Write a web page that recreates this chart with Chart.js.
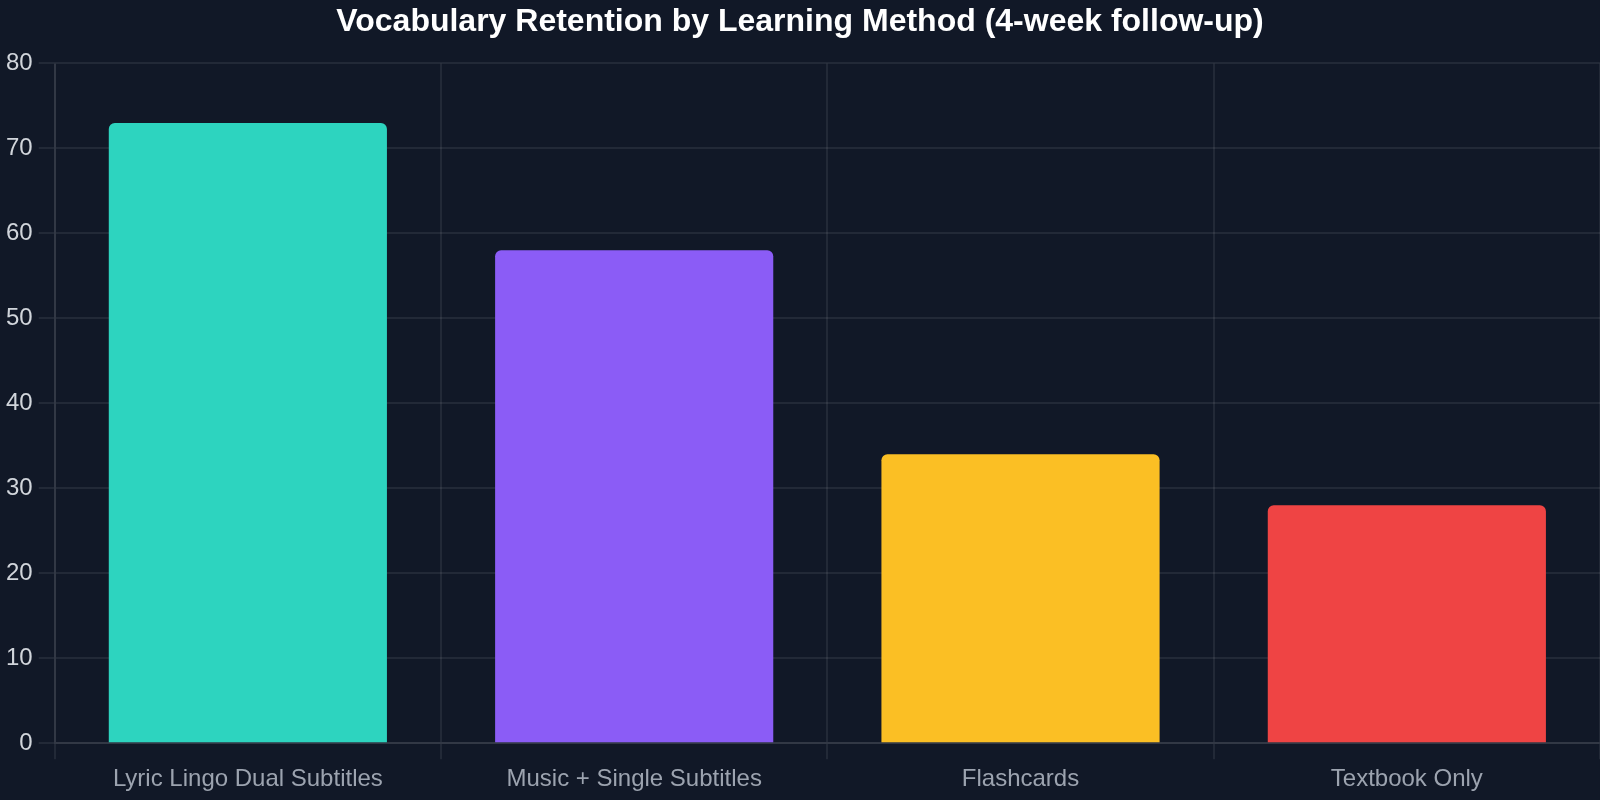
<!DOCTYPE html>
<html lang="en">
<head>
    <meta charset="UTF-8">
    <title>Vocabulary Retention by Learning Method</title>
    <script src="https://cdn.jsdelivr.net/npm/chart.js"></script>
    <style>
        html, body {
            margin: 0;
            padding: 0;
            background: #111827;
            overflow: hidden;
        }
        #wrap {
            width: 1600px;
            height: 800px;
        }
    </style>
</head>
<body>
    <div id="wrap">
        <canvas id="retentionChart"></canvas>
    </div>

    <script>
        // Data
        const methods = ['Lyric Lingo Dual Subtitles', 'Music + Single Subtitles', 'Flashcards', 'Textbook Only'];
        const retention = [73, 58, 34, 28];
        const barColors = ['#2dd4bf', '#8b5cf6', '#fbbf24', '#ef4444'];

        const gridColor = 'rgba(255, 255, 255, 0.075)';
        const fontFamily = 'Liberation Sans, Arial, sans-serif';

        new Chart(document.getElementById('retentionChart').getContext('2d'), {
            type: 'bar',
            data: {
                labels: methods,
                datasets: [{
                    label: 'Retention (%)',
                    data: retention,
                    backgroundColor: barColors,
                    borderRadius: { topLeft: 6, topRight: 6 },
                    borderSkipped: 'bottom'
                }]
            },
            options: {
                responsive: true,
                maintainAspectRatio: false,
                animation: false,
                layout: {
                    padding: { left: 0, right: 0, top: 0, bottom: 0 }
                },
                plugins: {
                    legend: { display: false },
                    tooltip: { enabled: false },
                    title: {
                        display: true,
                        text: 'Vocabulary Retention by Learning Method (4-week follow-up)',
                        color: '#ffffff',
                        font: { family: fontFamily, size: 32, weight: 'bold' },
                        padding: { top: 3, bottom: 22 }
                    }
                },
                scales: {
                    x: {
                        grid: { color: gridColor, lineWidth: 2, tickLength: 16 },
                        border: { color: gridColor, width: 2 },
                        ticks: {
                            color: '#9ca3af',
                            padding: 6,
                            font: { family: fontFamily, size: 24 }
                        }
                    },
                    y: {
                        min: 0,
                        max: 80,
                        grid: { color: gridColor, lineWidth: 2, tickLength: 16 },
                        border: { color: gridColor, width: 2 },
                        ticks: {
                            stepSize: 10,
                            color: '#d1d5db',
                            padding: 6,
                            font: { family: fontFamily, size: 24 }
                        }
                    }
                }
            }
        });
    </script>
</body>
</html>
